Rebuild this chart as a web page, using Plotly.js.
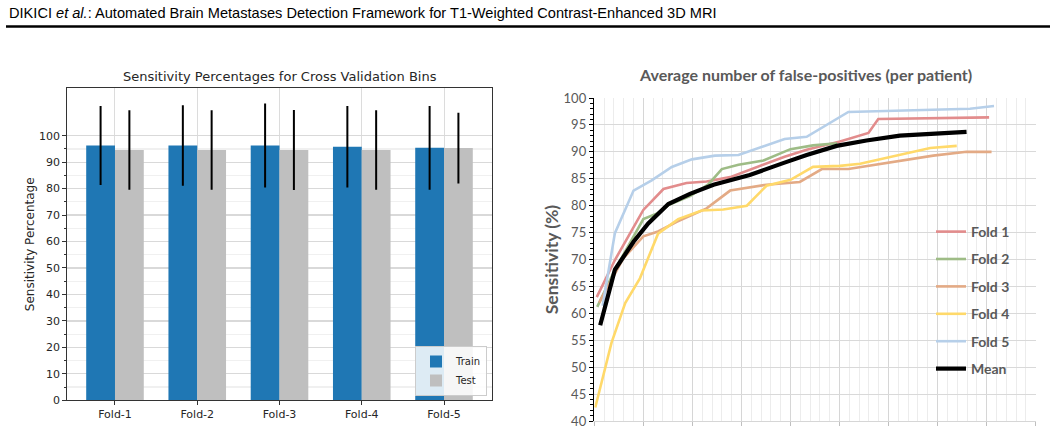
<!DOCTYPE html>
<html><head><meta charset="utf-8">
<script src="https://cdn.plot.ly/plotly-3.0.1.min.js"></script>
<style>html,body{margin:0;padding:0;background:#fff;}#chart{width:1055px;height:432px;}</style>
</head><body><div id="chart"></div>
<script>
// ---- Left chart data (bar chart) ----
const folds = ['Fold-1', 'Fold-2', 'Fold-3', 'Fold-4', 'Fold-5'];
const trainSens = [96.3, 96.3, 96.3, 95.8, 95.4];
const testSens  = [94.6, 94.6, 94.6, 94.6, 95.3];
const trainErr  = [14.9, 15.2, 15.9, 15.4, 15.8];
const testErr   = [15.0, 15.0, 15.1, 15.0, 13.4];
const leftTicks = [0, 10, 20, 30, 40, 50, 60, 70, 80, 90, 100];

// ---- Right chart data (FROC curves) ----
const fold1X = [0.05, 0.42, 1.00, 1.41, 1.88, 2.29, 2.77, 3.88, 4.33, 5.01, 5.59, 5.79, 8.05];
const fold1Y = [63.0, 69.9, 79.2, 83.1, 84.2, 84.5, 85.3, 89.1, 90.4, 91.9, 93.5, 96.1, 96.4];
const fold2X = [0.06, 0.42, 1.00, 1.27, 1.51, 1.95, 2.32, 2.60, 2.94, 3.45, 4.00, 4.46, 4.95];
const fold2Y = [61.2, 68.1, 77.5, 78.5, 80.1, 81.8, 83.9, 86.8, 87.6, 88.4, 90.5, 91.2, 91.6];
const fold3X = [0.10, 0.59, 1.00, 1.30, 1.68, 1.95, 2.29, 2.77, 3.51, 4.19, 4.64, 5.18, 6.91, 7.59, 8.10];
const fold3Y = [62.0, 70.2, 74.3, 75.2, 77.0, 78.1, 79.5, 82.8, 83.9, 84.4, 86.8, 86.8, 89.3, 90.0, 90.0];
const fold4X = [0.02, 0.35, 0.63, 0.93, 1.30, 1.71, 2.19, 2.63, 3.11, 3.51, 4.00, 4.46, 5.01, 5.42, 6.85, 7.39];
const fold4Y = [42.5, 54.5, 61.9, 66.5, 74.8, 77.5, 79.1, 79.3, 80.0, 83.7, 84.8, 87.2, 87.4, 87.8, 90.7, 91.1];
const fold5X = [0.17, 0.42, 0.80, 1.17, 1.58, 1.99, 2.46, 2.94, 3.88, 4.33, 5.18, 7.66, 8.15];
const fold5Y = [61.4, 74.9, 82.8, 84.7, 87.2, 88.6, 89.3, 89.4, 92.4, 92.8, 97.4, 98.0, 98.5];
const meanX  = [0.12, 0.42, 0.80, 1.10, 1.51, 1.95, 2.43, 3.17, 3.85, 4.33, 4.94, 5.55, 6.23, 6.78, 7.59];
const meanY  = [57.8, 68.1, 73.3, 76.7, 80.3, 82.2, 83.9, 85.7, 87.9, 89.4, 91.1, 92.1, 93.0, 93.3, 93.7];

const seriesNames = ['Fold 1', 'Fold 2', 'Fold 3', 'Fold 4', 'Fold 5', 'Mean'];
const seriesX = [fold1X, fold2X, fold3X, fold4X, fold5X, meanX];
const seriesY = [fold1Y, fold2Y, fold3Y, fold4Y, fold5Y, meanY];
const seriesColors = ['#e28c8c', '#9ebc86', '#e3aa85', '#ffd96a', '#b6cfe9', '#000000'];
const seriesWidths = [2.6, 2.6, 2.6, 2.6, 2.6, 4.2];

const W = 1055, H = 432;
const px = v => v / W;
const py = v => 1 - v / H;

const mpl = {family: 'DejaVu Sans', size: 11, color: '#262626'};
const xl  = {family: 'Lato', size: 13, color: '#595959'};

const traces = [
  {type: 'bar', name: 'Train', x: folds, y: trainSens, xaxis: 'x', yaxis: 'y',
   marker: {color: '#1f77b4'}, legend: 'legend',
   error_y: {type: 'data', array: trainErr, visible: true, color: '#000000', thickness: 2, width: 0}},
  {type: 'bar', name: 'Test', x: folds, y: testSens, xaxis: 'x', yaxis: 'y',
   marker: {color: '#bfbfbf'}, legend: 'legend',
   error_y: {type: 'data', array: testErr, visible: true, color: '#000000', thickness: 2, width: 0}}
];
seriesNames.forEach((n, i) => {
  traces.push({type: 'scatter', mode: 'lines', name: n, x: seriesX[i], y: seriesY[i],
    xaxis: 'x2', yaxis: 'y2', legend: 'legend2', legendgroup: 'g' + i,
    line: {color: seriesColors[i], width: seriesWidths[i]}});
});

const layout = {
  width: W, height: H,
  margin: {l: 0, r: 0, t: 0, b: 0},
  paper_bgcolor: '#ffffff', plot_bgcolor: '#ffffff',
  barmode: 'group', bargap: 0.3, bargroupgap: 0,
  xaxis: {domain: [px(66.7), px(492.3)], anchor: 'y', type: 'category',
    range: [-0.587, 4.587], showgrid: true, gridcolor: '#dcdcdc', gridwidth: 1,
    showline: true, linecolor: '#333333', linewidth: 1, mirror: true,
    ticks: 'outside', ticklen: 3.5, tickcolor: '#333333', tickfont: mpl, zeroline: false},
  yaxis: {domain: [py(400.3), py(88.3)], anchor: 'x', range: [0, 117.9],
    tickvals: leftTicks, showgrid: true, gridcolor: '#d9d9d9', gridwidth: 1.2,
    minor: {tickvals: [5, 15, 25, 35, 45, 55, 65, 75, 85, 95], showgrid: true, gridcolor: '#f0f0f0',
            ticks: 'outside', ticklen: 2, tickcolor: '#333333'},
    showline: true, linecolor: '#333333', linewidth: 1, mirror: true, zeroline: false,
    ticks: 'outside', ticklen: 3.5, tickcolor: '#333333', tickfont: mpl,
    title: {text: 'Sensitivity Percentage', font: {family: 'DejaVu Sans', size: 12, color: '#262626'}, standoff: 1}},
  xaxis2: {domain: [px(594.3), px(1035.7)], anchor: 'y2', range: [0, 9], dtick: 1,
    showticklabels: false, showgrid: true, gridcolor: '#d6d6d6', gridwidth: 1,
    minor: {dtick: 0.2, showgrid: true, gridcolor: '#ececec', gridwidth: 1},
    showline: true, linecolor: '#d6d6d6', linewidth: 1, zeroline: false,
    ticks: 'outside', ticklen: 4, tickcolor: '#bfbfbf'},
  yaxis2: {domain: [py(421), py(98)], anchor: 'x2', range: [40, 100], dtick: 5,
    showgrid: true, gridcolor: '#d9d9d9', gridwidth: 1, zeroline: false,
    showline: true, linecolor: '#000000', linewidth: 1.5,
    ticks: 'outside', ticklen: 4, tickcolor: '#000000', tickfont: xl,
    minor: {dtick: 1, ticks: 'outside', ticklen: 3, tickcolor: '#000000', showgrid: false},
    title: {text: 'Sensitivity (%)', font: {family: 'Lato', size: 17.5, weight: 'bold', color: '#595959'}, standoff: 0}},
  legend: {x: px(487), xanchor: 'right', y: py(396), yanchor: 'bottom',
    bgcolor: 'rgba(255,255,255,0.85)', bordercolor: '#cccccc', borderwidth: 1,
    font: {family: 'DejaVu Sans', size: 10, color: '#262626'}, tracegroupgap: 0},
  legend2: {x: px(931), xanchor: 'left', y: py(216), yanchor: 'top',
    bgcolor: 'rgba(0,0,0,0)', tracegroupgap: 6.2,
    font: {family: 'Lato', size: 14, weight: 'bold', color: '#595959'}},
  shapes: [
    {type: 'line', xref: 'paper', yref: 'paper', x0: px(6), x1: px(1050), y0: py(26.5), y1: py(26.5),
     line: {color: '#000000', width: 2.5}}
  ],
  annotations: [
    {xref: 'paper', yref: 'paper', x: px(7), y: py(13), xanchor: 'left', yanchor: 'middle', showarrow: false,
     text: 'DIKICI <i>et al.</i>: Automated Brain Metastases Detection Framework for T1-Weighted Contrast-Enhanced 3D MRI',
     font: {family: 'Liberation Sans', size: 14.6, color: '#000000'}},
    {xref: 'paper', yref: 'paper', x: px(279.5), y: py(76), xanchor: 'center', yanchor: 'middle', showarrow: false,
     text: 'Sensitivity Percentages for Cross Validation Bins',
     font: {family: 'DejaVu Sans', size: 13, color: '#262626'}},
    {xref: 'paper', yref: 'paper', x: px(805), y: py(74), xanchor: 'center', yanchor: 'middle', showarrow: false,
     text: 'Average number of false-positives (per patient)',
     font: {family: 'Lato', size: 16, weight: 'bold', color: '#595959'}}
  ]
};

Plotly.newPlot('chart', traces, layout, {displayModeBar: false, staticPlot: true});
</script>
</body></html>
